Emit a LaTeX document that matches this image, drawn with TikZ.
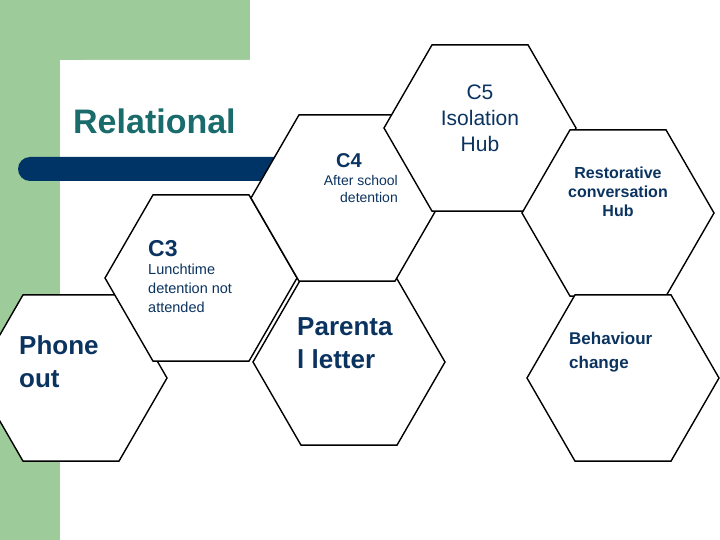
\documentclass[tikz,border=0pt]{standalone}
\usepackage{fontspec}
\setmainfont{Liberation Sans}
\usetikzlibrary{shapes.geometric}
\definecolor{leaf}{HTML}{9DCB99}
\definecolor{navy}{HTML}{003366}
\definecolor{ink}{HTML}{0B3360}
\definecolor{teal}{HTML}{1A6B6B}
\tikzset{
  hexcell/.style={regular polygon, regular polygon sides=6, minimum size=192pt, inner sep=0pt, draw=black, fill=white, line width=1.4pt},
  lbl/.style={text=ink, inner sep=0pt, font=\bfseries},
}
\begin{document}
\begin{tikzpicture}[x=1pt,y=-1pt]
\useasboundingbox (0,0) rectangle (720,540);
\fill[white] (0,0) rectangle (720,540);
\fill[leaf] (0,0) rectangle (250,60);
\fill[leaf] (0,0) rectangle (60,540);
\fill[white,rounded corners=25pt] (60,60) rectangle (760,580);
\fill[navy,rounded corners=12pt] (18,157) rectangle (300,181);
\node[anchor=base west, text=teal, font=\bfseries\fontsize{34}{40}\selectfont, inner sep=0pt] (rel) at (73,134) {Relational};
\node[hexcell] (phone) at (71,378) {};
\node[hexcell] (c3) at (201,278) {};
\node[hexcell] (par) at (349,362) {};
\node[hexcell] (c4) at (347,198) {};
\node[hexcell] (c5) at (480,128) {};
\node[hexcell] (rest) at (618,213) {};
\node[hexcell] (beh) at (623,378) {};
% texts
\node[lbl, anchor=base, font=\bfseries\fontsize{20}{22}\selectfont] (t4) at (349,168) {C4};
\node[lbl, anchor=north east, align=right, font=\fontsize{14}{17.5}\selectfont] (t4b) at (398,175) {After school\\detention};
\node[lbl, anchor=base west, font=\bfseries\fontsize{23}{26}\selectfont] (t3) at (148,256) {C3};
\node[lbl, anchor=north west, align=left, font=\fontsize{14.5}{19}\selectfont] (t3b) at (148,264) {Lunchtime\\detention not\\attended};
\node[lbl, anchor=north west, align=left, font=\bfseries\fontsize{26}{33}\selectfont] (tp) at (19,335) {Phone\\out};
\node[lbl, anchor=north west, align=left, font=\bfseries\fontsize{26}{33}\selectfont] (tpar) at (297,317) {Parenta\\l letter};
\node[lbl, anchor=center, align=center, font=\fontsize{21}{26}\selectfont] (t5) at (480,118) {C5\\Isolation\\Hub};
\node[lbl, anchor=center, align=center, font=\bfseries\fontsize{16}{19}\selectfont] (tr) at (618,192) {Restorative\\conversation\\Hub};
\node[lbl, anchor=north west, align=left, font=\bfseries\fontsize{17}{24}\selectfont] (tb) at (569,332) {Behaviour\\change};
\end{tikzpicture}
\end{document}
